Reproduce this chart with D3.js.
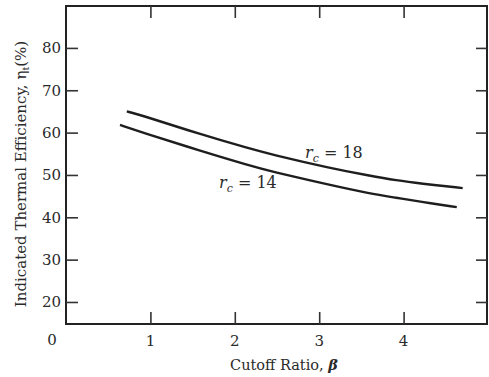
<!DOCTYPE html>
<html>
<head>
<meta charset="utf-8">
<script src="https://cdn.jsdelivr.net/npm/d3@7"></script>
<style>
body { margin: 0; background: #fff; }
text { font-family: "DejaVu Serif", "Liberation Serif", serif; fill: #2a2a2a; }
</style>
</head>
<body>
<svg></svg>
<script>
var svgWidth = 489;
var svgHeight = 377;

// values
var xTicks = [1, 2, 3, 4];
var yTicks = [20, 30, 40, 50, 60, 70, 80];

var beta18 = [0.72, 0.88, 1.59, 2.18, 2.42, 3.13, 3.60, 3.92, 4.19, 4.70];
var eff18 = [65.0, 64.2, 59.6, 56.2, 54.9, 51.6, 49.8, 48.7, 48.0, 46.9];

var beta14 = [0.64, 0.88, 1.59, 2.18, 2.42, 3.13, 3.60, 3.92, 4.19, 4.63];
var eff14 = [61.8, 60.2, 55.7, 52.2, 50.9, 47.6, 45.6, 44.6, 43.7, 42.4];

var plotLeft = 66, plotRight = 487, plotTop = 6, plotBottom = 324;

var x = d3.scaleLinear().domain([0, 5]).range([plotLeft, plotRight + 1]);
var y = d3.scaleLinear().domain([14.8, 89.9]).range([plotBottom, plotTop]);

var svg = d3.select("svg")
    .attr("width", svgWidth)
    .attr("height", svgHeight);

// frame
svg.append("rect")
    .attr("x", plotLeft)
    .attr("y", plotTop)
    .attr("width", plotRight - plotLeft)
    .attr("height", plotBottom - plotTop)
    .attr("fill", "none")
    .attr("stroke", "#222")
    .attr("stroke-width", 2);

// axes with inward ticks
function noDomain(g) { g.select(".domain").remove(); }

svg.append("g")
    .attr("transform", "translate(0," + plotBottom + ")")
    .call(d3.axisTop(x).tickValues(xTicks).tickSize(12).tickFormat(""))
    .call(noDomain);

svg.append("g")
    .attr("transform", "translate(0," + plotTop + ")")
    .call(d3.axisBottom(x).tickValues(xTicks).tickSize(12).tickFormat(""))
    .call(noDomain);

svg.append("g")
    .attr("transform", "translate(" + plotLeft + ",0)")
    .call(d3.axisRight(y).tickValues(yTicks).tickSize(12).tickFormat(""))
    .call(noDomain);

svg.append("g")
    .attr("transform", "translate(" + plotRight + ",0)")
    .call(d3.axisLeft(y).tickValues(yTicks).tickSize(11).tickFormat(""))
    .call(noDomain);

svg.selectAll(".tick line")
    .attr("stroke", "#333")
    .attr("stroke-width", 1.6);

// tick labels
svg.selectAll(".xlab")
    .data(xTicks)
    .enter().append("text")
    .attr("x", function (d) { return x(d); })
    .attr("y", 346)
    .attr("text-anchor", "middle")
    .attr("font-size", 15)
    .text(function (d) { return d; });

svg.selectAll(".ylab")
    .data(yTicks)
    .enter().append("text")
    .attr("x", 61)
    .attr("y", function (d) { return y(d) + 5.5; })
    .attr("text-anchor", "end")
    .attr("font-size", 15)
    .text(function (d) { return d; });

svg.append("text")
    .attr("x", 52)
    .attr("y", 345)
    .attr("text-anchor", "middle")
    .attr("font-size", 15)
    .text("0");

// axis titles
svg.append("text")
    .attr("x", 284)
    .attr("y", 370)
    .attr("text-anchor", "middle")
    .attr("font-size", 14.5)
    .call(function (t) {
        t.append("tspan").text("Cutoff Ratio, ");
        t.append("tspan").attr("font-style", "italic").attr("font-weight", "bold").text("β");
    });

svg.append("text")
    .attr("transform", "translate(26,174) rotate(-90)")
    .attr("text-anchor", "middle")
    .attr("font-size", 15)
    .call(function (t) {
        t.append("tspan").text("Indicated Thermal Efficiency, η");
        t.append("tspan").attr("font-size", 9.5).attr("dy", 3).text("t");
        t.append("tspan").attr("dy", -3).text("(%)");
    });

// curves
var line = d3.line()
    .x(function (d) { return x(d[0]); })
    .y(function (d) { return y(d[1]); })
    .curve(d3.curveBasis);

[[beta18, eff18], [beta14, eff14]].forEach(function (s) {
    svg.append("path")
        .datum(d3.zip(s[0], s[1]))
        .attr("d", line)
        .attr("fill", "none")
        .attr("stroke", "#1e1e1e")
        .attr("stroke-width", 2.4);
});

// curve labels
function curveLabel(px, py, value) {
    var t = svg.append("text")
        .attr("x", px)
        .attr("y", py)
        .attr("font-size", 16);
    t.append("tspan").attr("font-style", "italic").text("r");
    t.append("tspan").attr("font-style", "italic").attr("font-size", 11).attr("dy", 4).text("c");
    t.append("tspan").attr("dy", -4).text(" = " + value);
}

curveLabel(305, 158, 18);
curveLabel(219, 188, 14);
</script>
</body>
</html>
